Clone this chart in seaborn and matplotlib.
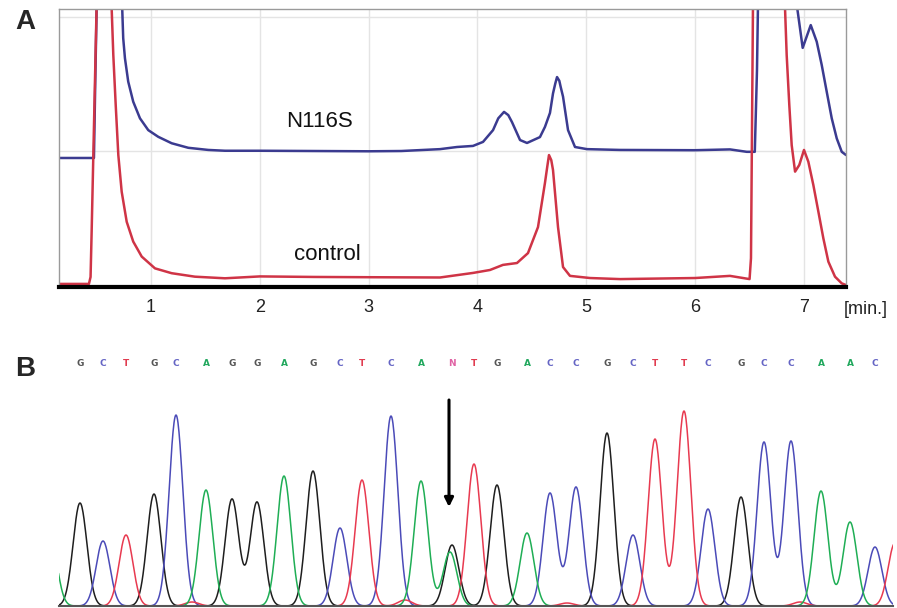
import numpy as np
import pandas as pd
import matplotlib
matplotlib.use("Agg")
import matplotlib.pyplot as plt
import seaborn as sns

# ---------------- Panel A data (retention time [min], signal) ----------------
n116s_time = [0.155, 0.476, 0.49, 0.513, 0.60, 0.70, 0.736, 0.745, 0.761, 0.791, 0.837,
              0.899, 0.975, 1.067, 1.190, 1.343, 1.527, 1.680, 2.0, 2.5, 3.0, 3.3, 3.656,
              3.812, 3.959, 4.051, 4.143, 4.191, 4.244, 4.283, 4.317, 4.391, 4.455, 4.574,
              4.620, 4.666, 4.694, 4.715, 4.731, 4.752, 4.764, 4.786, 4.832, 4.896, 5.006,
              5.310, 6.0, 6.320, 6.474, 6.548, 6.568, 6.587, 6.75, 6.92, 6.939, 6.988,
              7.062, 7.117, 7.163, 7.209, 7.255, 7.301, 7.347, 7.386]
n116s_signal = [47.4, 47.4, 80, 130, 300, 140, 103, 92.1, 84.6, 75.9, 68.4,
                62.2, 57.8, 55.3, 52.9, 51.2, 50.4, 50.1, 50.1, 50.0, 49.9, 50.0, 50.7,
                51.5, 51.9, 53.4, 57.8, 62.2, 64.6, 63.4, 60.8, 54.1, 53.0, 55.2,
                59.0, 64.2, 71.5, 75.2, 77.6, 76.2, 74.0, 70.3, 57.8, 51.5, 50.7,
                50.4, 50.3, 50.6, 49.7, 49.7, 80, 130, 300, 120, 103, 88.5,
                97.0, 90.8, 82.1, 72.1, 62.2, 54.7, 49.7, 48.5]

control_time = [0.155, 0.43, 0.445, 0.455, 0.50, 0.55, 0.60, 0.639, 0.654, 0.676, 0.700,
                0.731, 0.777, 0.837, 0.915, 1.037, 1.190, 1.404, 1.680, 2.0, 2.5, 3.0,
                3.656, 3.959, 4.115, 4.234, 4.363, 4.464, 4.556, 4.620, 4.641, 4.657,
                4.678, 4.694, 4.740, 4.786, 4.850, 5.034, 5.310, 6.0, 6.320, 6.440,
                6.500, 6.513, 6.531, 6.60, 6.80, 6.826, 6.841, 6.865, 6.887, 6.918,
                6.957, 7.000, 7.040, 7.086, 7.132, 7.178, 7.224, 7.285, 7.347, 7.386]
control_signal = [0.4, 0.4, 3, 20, 103, 300, 140, 103, 85.8, 67.2, 48.5,
                  34.8, 23.6, 16.2, 10.6, 6.2, 4.4, 3.1, 2.5, 3.2, 3.0, 2.9,
                  2.8, 4.5, 5.6, 7.5, 8.2, 11.9, 21.6, 38.1, 44.1, 48.5,
                  46.6, 42.9, 21.6, 6.7, 3.4, 2.6, 2.2, 2.6, 3.4, 2.6,
                  2.2, 10, 103, 300, 140, 103, 85.8, 67.2, 52.2, 42.3,
                  44.8, 50.4, 46.0, 37.3, 27.4, 17.4, 8.7, 3.1, 0.6, 0.0]

time_ticks = [1, 2, 3, 4, 5, 6, 7]

# ---------------- Panel B data (sequencing trace) ----------------
called_bases = list("GCTGCAGGAGCTCANTGACCGCTTCGCCAAC")
peak_pos = [80, 103, 126, 154, 176, 206, 232, 257, 284, 313, 340, 362, 391, 421, 452,
            474, 497, 527, 550, 576, 607, 633, 655, 684, 708, 741, 764, 791, 821, 850, 875]
peak_channel = list("GCTGCAGGAGCTCAGTGACCGCTTCGCCAAC")
peak_height = [103, 65, 71, 112, 191, 116, 107, 104, 130, 135, 78, 126, 190, 125, 61,
               142, 121, 73, 113, 119, 173, 71, 167, 195, 97, 109, 164, 165, 115, 84, 59]
# secondary / partial peaks
minor_pos = [450, 50, 895, 192, 405, 567, 800]
minor_channel = ["A", "A", "T", "T", "T", "T", "T"]
minor_height = [54, 70, 63, 4, 6, 3, 4]
mutation_pos = 449

# ---------------- styling ----------------
sns.set_style("white")
plt.rcParams["font.family"] = ["Liberation Sans", "DejaVu Sans"]

blue = "#3b3b90"
red = "#cf3446"
trace_colors = {"G": "#1e1e1e", "C": "#4b4bb8", "T": "#e83a50", "A": "#1fae55"}
letter_colors = {"G": "#555555", "C": "#6464c4", "T": "#e03c50", "A": "#22a85e", "N": "#e062a4"}

W, H = 897, 608
fig = plt.figure(figsize=(W / 100, H / 100), dpi=100)

# ---------------- Panel A ----------------
axA = fig.add_axes([59 / W, 1 - 287 / H, (846 - 59) / W, (287 - 9) / H])
dfA = pd.concat([
    pd.DataFrame({"time": n116s_time, "signal": n116s_signal, "sample": "N116S"}),
    pd.DataFrame({"time": control_time, "signal": control_signal, "sample": "control"}),
])
sns.lineplot(data=dfA, x="time", y="signal", hue="sample",
             palette={"N116S": blue, "control": red}, estimator=None, sort=False,
             lw=1.8, legend=False, ax=axA)
for line in axA.get_lines():
    line.set_solid_joinstyle("round")
axA.set_xlim(0.155, 7.386)
axA.set_ylim(-0.75, 103)
axA.set_xticks(time_ticks)
axA.set_xticklabels([str(t) for t in time_ticks])
axA.set_yticks([0, 50, 100])
axA.set_yticklabels([])
axA.set_xlabel("")
axA.set_ylabel("")
axA.grid(True, color="#e4e4e4", lw=1.0)
axA.set_axisbelow(True)
axA.tick_params(axis="x", length=0, pad=9, labelsize=13, labelcolor="#222222")
axA.tick_params(axis="y", length=0)
for s in ["left", "top", "right"]:
    axA.spines[s].set_color("#9a9a9a")
    axA.spines[s].set_linewidth(1.0)
axA.spines["bottom"].set_color("black")
axA.spines["bottom"].set_linewidth(3.0)

axA.text(2.544, 61.2, "N116S", fontsize=16, ha="center", va="center", color="#111111")
axA.text(2.617, 11.2, "control", fontsize=16, ha="center", va="center", color="#111111")
fig.text(866 / W, 1 - 309 / H, "[min.]", fontsize=13, ha="center", va="center", color="#222222")

# ---------------- Panel B ----------------
axB = fig.add_axes([59 / W, 1 - 606 / H, (893 - 59) / W, (606 - 346) / H])
xs = np.arange(30, 910, 0.5)
sigma = 6.9
rows = []
all_pos = peak_pos + minor_pos
all_ch = peak_channel + minor_channel
all_h = peak_height + minor_height
for ch in ["G", "C", "T", "A"]:
    sig = np.zeros_like(xs)
    for p, c, h in zip(all_pos, all_ch, all_h):
        if c == ch:
            sig += h * np.exp(-(xs - p) ** 2 / (2 * sigma ** 2))
    rows.append(pd.DataFrame({"pos": xs, "intensity": sig, "channel": ch}))
dfB = pd.concat(rows)
sns.lineplot(data=dfB, x="pos", y="intensity", hue="channel", palette=trace_colors,
             estimator=None, sort=False, lw=1.1, legend=False, ax=axB)
axB.set_xlim(59, 893)
axB.set_ylim(0, 260)
axB.set_xticks([])
axB.set_yticks([])
axB.set_xlabel("")
axB.set_ylabel("")
for s in ["left", "top", "right"]:
    axB.spines[s].set_visible(False)
axB.spines["bottom"].set_color("#555555")
axB.spines["bottom"].set_linewidth(1.5)

for b, p in zip(called_bases, peak_pos):
    axB.text(p, 243, b, color=letter_colors[b], fontsize=6.5, fontweight="bold",
             ha="center", va="center", family="DejaVu Sans", clip_on=False)

axB.annotate("", xy=(mutation_pos, 99), xytext=(mutation_pos, 206),
             arrowprops=dict(arrowstyle="-|>", color="black", lw=2.2, mutation_scale=13,
                             shrinkA=0, shrinkB=0))

fig.text(25 / W, 1 - 22 / H, "A", fontsize=20, fontweight="bold", ha="center", va="center")
fig.text(25 / W, 1 - 369 / H, "B", fontsize=20, fontweight="bold", ha="center", va="center")

fig.savefig("out.png", dpi=100)
